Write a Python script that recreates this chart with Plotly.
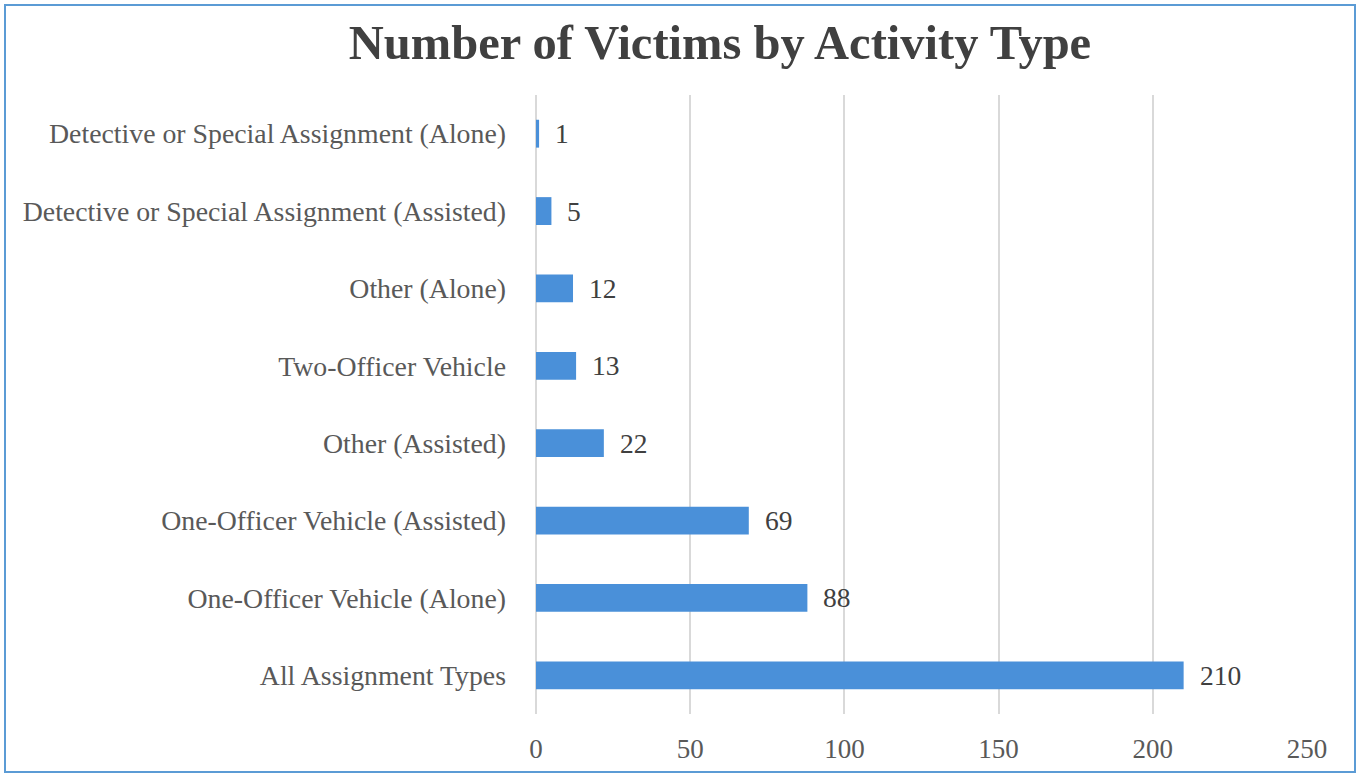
import plotly.graph_objects as go

categories = [
    "All Assignment Types",
    "One-Officer Vehicle (Alone)",
    "One-Officer Vehicle (Assisted)",
    "Other (Assisted)",
    "Two-Officer Vehicle",
    "Other (Alone)",
    "Detective or Special Assignment (Assisted)",
    "Detective or Special Assignment (Alone)",
]
victims = [210, 88, 69, 22, 13, 12, 5, 1]
tick_values = [0, 50, 100, 150, 200, 250]

W, H = 1359, 775
ML, MR, MT, MB = 536, 52, 95, 61
FONT = "Liberation Serif"

fig = go.Figure(
    go.Bar(
        x=victims,
        y=categories,
        orientation="h",
        marker=dict(color="#4a90d9", line=dict(width=0)),
        width=0.36,
        hoverinfo="x+y",
    )
)

for cat, v in zip(categories, victims):
    fig.add_annotation(
        x=v, y=cat, text=str(v), showarrow=False,
        xanchor="left", yanchor="middle", xshift=14,
        font=dict(family=FONT, size=27.5, color="#404040"),
    )

pw = W - ML - MR
ph = H - MT - MB
fig.update_layout(
    width=W,
    height=H,
    margin=dict(l=ML, r=MR, t=MT, b=MB),
    paper_bgcolor="white",
    plot_bgcolor="white",
    title=dict(
        text="<b>Number of Victims by Activity Type</b>",
        x=720 / W,
        xanchor="center",
        y=1 - 42 / H,
        yanchor="middle",
        font=dict(family=FONT, size=48.5, color="#404040"),
    ),
    xaxis=dict(
        range=[0, 250],
        tickvals=tick_values,
        showgrid=True,
        gridcolor="#d9d9d9",
        gridwidth=2,
        zeroline=True,
        zerolinecolor="#d9d9d9",
        zerolinewidth=2,
        showline=False,
        tickfont=dict(family=FONT, size=27, color="#595959"),
        ticks="",
        ticklabelstandoff=16,
    ),
    yaxis=dict(
        showgrid=False,
        showline=False,
        ticks="",
        tickfont=dict(family=FONT, size=27.8, color="#595959"),
        ticklabelstandoff=29,
    ),
    showlegend=False,
    shapes=[
        dict(
            type="rect",
            xref="paper",
            yref="paper",
            x0=(5 - ML) / pw,
            x1=(1355 - ML) / pw,
            y0=1 - (772 - MT) / ph,
            y1=1 - (5 - MT) / ph,
            line=dict(color="#5b9bd5", width=2),
            fillcolor="rgba(0,0,0,0)",
            layer="below",
        )
    ],
)

fig.write_html(
    "out.html",
    config={"displayModeBar": False},
    post_script="document.body.style.margin='0';document.body.style.overflow='hidden';",
)
